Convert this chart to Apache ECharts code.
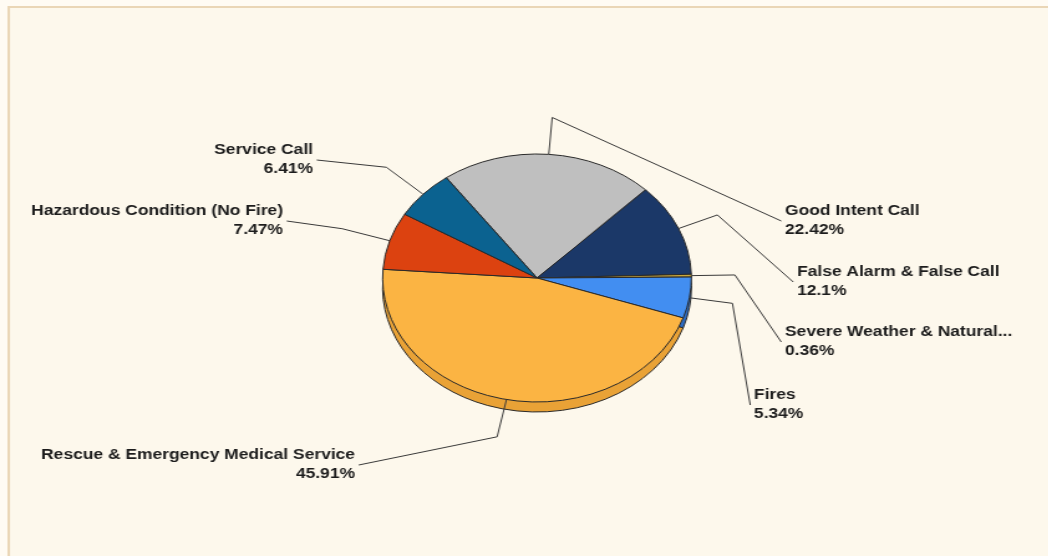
<!DOCTYPE html>
<html>
<head>
<meta charset="utf-8">
<script src="https://cdn.jsdelivr.net/npm/echarts@6/dist/echarts.min.js"></script>
<style>
  html, body { margin: 0; padding: 0; background: #fffbf3; }
  #wrap { position: relative; width: 1048px; height: 556px; overflow: hidden; }
  #chart { position: absolute; left: 0; top: 0; width: 842px; height: 556px; transform: scaleX(1.245); transform-origin: 0 0; }
</style>
</head>
<body>
<div id="wrap"><div id="chart"></div></div>
<script>
// ---- data ----
const categories = [
  'Good Intent Call',
  'False Alarm & False Call',
  'Severe Weather & Natural...',
  'Fires',
  'Rescue & Emergency Medical Service',
  'Hazardous Condition (No Fire)',
  'Service Call'
];
const shares = [22.42, 12.1, 0.36, 5.34, 45.91, 7.47, 6.41];

// ---- styles ----
const topColors  = ['#bfbfbf', '#1b3868', '#c9a73c', '#428ef1', '#fbb443', '#dc4210', '#0b6290'];
const sideColors = ['#9e9e9e', '#12284c', '#a8892c', '#2d6cc4', '#e9a236', '#b3340b', '#084c70'];

// ---- layout (chart is drawn 842 px wide and stretched to 1048 px) ----
const S = 1.245;
const CX = 537 / S, CY = 278, R = 124, DEPTH = 10, START = 126;
const labelSpots = [
  { x: 785 / S, y: 221, align: 'left',  len: 37 },
  { x: 797 / S, y: 282, align: 'left',  len: 34 },
  { x: 785 / S, y: 342, align: 'left',  len: 35 },
  { x: 754 / S, y: 405, align: 'left',  len: 35 },
  { x: 355 / S, y: 465, align: 'right', len: 38 },
  { x: 283 / S, y: 221, align: 'right', len: 40 },
  { x: 313 / S, y: 160, align: 'right', len: 40 }
];

const pieData  = categories.map((c, i) => ({ name: c, value: shares[i], itemStyle: { color: topColors[i] } }));
const sideData = categories.map((c, i) => ({ name: c, value: shares[i], itemStyle: { color: sideColors[i] } }));

const total = shares.reduce((a, b) => a + b, 0);
function midAngle(i) {
  let cum = 0;
  for (let k = 0; k < i; k++) cum += shares[k];
  return (START - (cum + shares[i] / 2) / total * 360) * Math.PI / 180;
}

const chart = echarts.init(document.getElementById('chart'), null, { width: 842, height: 556, renderer: 'canvas' });
chart.setOption({
  animation: false,
  backgroundColor: '#fffbf3',
  graphic: [{
    type: 'rect', silent: true, z: -10,
    shape: { x: 7, y: 7, width: 900, height: 600 },
    style: { fill: '#fdf8ec', stroke: '#ead6b6', lineWidth: 2 }
  }],
  series: [
    {
      type: 'pie', z: 1, silent: true,
      center: [CX, CY + DEPTH], radius: R,
      startAngle: START, clockwise: true,
      label: { show: false }, labelLine: { show: false },
      itemStyle: { borderColor: '#2a2a2a', borderWidth: 1 },
      data: sideData
    },
    {
      type: 'pie', z: 2, silent: true,
      center: [CX, CY], radius: R,
      startAngle: START, clockwise: true,
      itemStyle: { borderColor: '#2a2a2a', borderWidth: 1 },
      label: {
        show: true,
        formatter: '{b}\n{c}%',
        fontFamily: 'Liberation Sans, Arial, sans-serif',
        fontWeight: 'bold',
        fontSize: 14,
        lineHeight: 19,
        color: '#1c1c1c'
      },
      labelLine: { show: true, lineStyle: { color: '#3a3a3a', width: 1 } },
      labelLayout: function (p) {
        const s = labelSpots[p.dataIndex];
        const a = midAngle(p.dataIndex);
        const dx = Math.cos(a), dy = -Math.sin(a);
        const ex = CX + R * dx, ey = CY + R * dy;
        const elbow = [ex + dx * s.len, ey + dy * s.len];
        const end = [s.align === 'left' ? s.x - 3 : s.x + 3, s.y];
        return {
          x: s.x, y: s.y, align: s.align, verticalAlign: 'middle',
          labelLinePoints: [[ex, ey], elbow, end]
        };
      },
      data: pieData
    }
  ]
});
</script>
</body>
</html>
